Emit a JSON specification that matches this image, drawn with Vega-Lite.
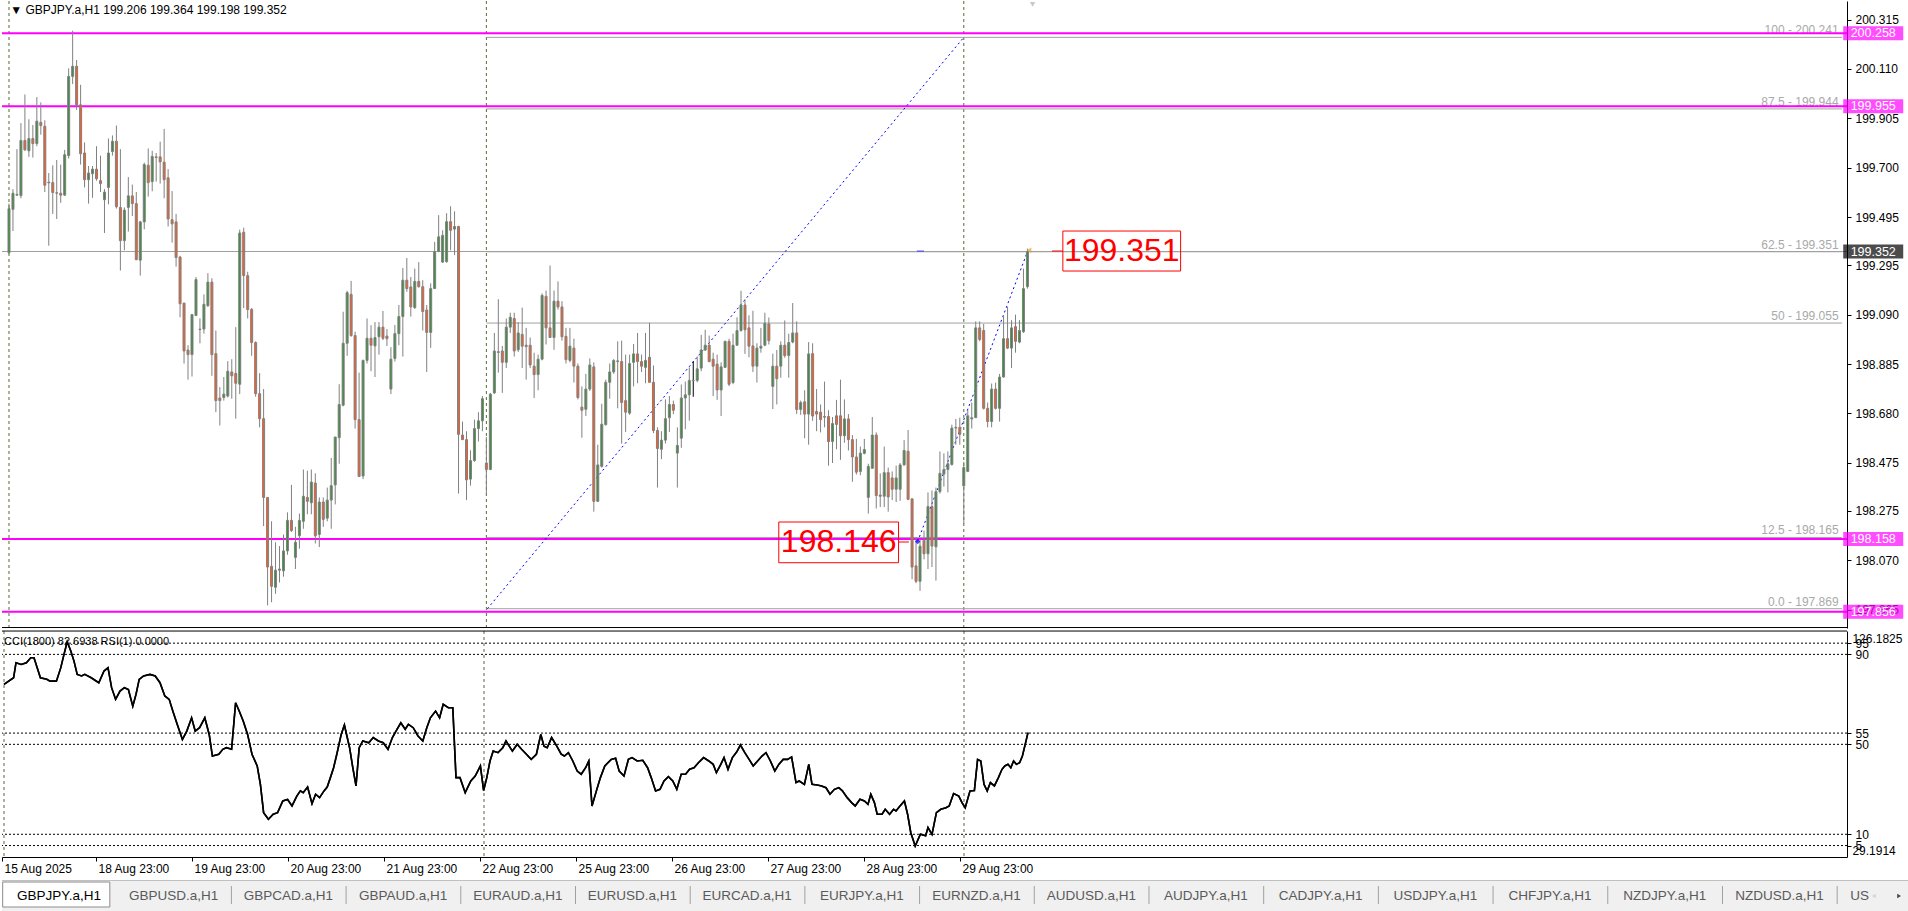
{
"$schema": "https://vega.github.io/schema/vega-lite/v6.json",
"padding": 0,
"background": "white",
"spacing": 3,
"bounds": "flush",
"config": {"view": {"stroke": null}, "font": "Liberation Sans", "text": {"font": "Liberation Sans"}, "axis": {"labelFont": "Liberation Sans", "grid": false}},
"datasets": {
"candles": [
{"i":0,"o":199.347,"h":199.551,"l":199.341,"c":199.530},{"i":1,"o":199.527,"h":199.611,"l":199.437,"c":199.594},{"i":2,"o":199.586,"h":199.777,"l":199.583,"c":199.589},{"i":3,"o":199.584,"h":199.885,"l":199.573,"c":199.813},{"i":4,"o":199.813,"h":200.004,"l":199.770,"c":199.774},{"i":5,"o":199.770,"h":199.901,"l":199.745,"c":199.821},{"i":6,"o":199.821,"h":199.877,"l":199.742,"c":199.800},{"i":7,"o":199.800,"h":199.993,"l":199.789,"c":199.893},{"i":8,"o":199.888,"h":199.971,"l":199.837,"c":199.875},{"i":9,"o":199.872,"h":199.897,"l":199.599,"c":199.627},
{"i":10,"o":199.640,"h":199.678,"l":199.376,"c":199.637},{"i":11,"o":199.638,"h":199.710,"l":199.508,"c":199.597},{"i":12,"o":199.596,"h":199.732,"l":199.487,"c":199.594},{"i":13,"o":199.594,"h":199.713,"l":199.554,"c":199.586},{"i":14,"o":199.586,"h":199.774,"l":199.583,"c":199.754},{"i":15,"o":199.750,"h":200.112,"l":199.738,"c":200.079},{"i":16,"o":200.079,"h":200.269,"l":200.047,"c":200.121},{"i":17,"o":200.121,"h":200.147,"l":199.940,"c":199.961},{"i":18,"o":199.961,"h":200.044,"l":199.713,"c":199.758},{"i":19,"o":199.761,"h":199.805,"l":199.618,"c":199.650},
{"i":20,"o":199.650,"h":199.707,"l":199.551,"c":199.678},{"i":21,"o":199.675,"h":199.707,"l":199.575,"c":199.694},{"i":22,"o":199.694,"h":199.789,"l":199.646,"c":199.654},{"i":23,"o":199.646,"h":199.750,"l":199.599,"c":199.634},{"i":24,"o":199.567,"h":199.611,"l":199.429,"c":199.599},{"i":25,"o":199.618,"h":199.821,"l":199.548,"c":199.761},{"i":26,"o":199.767,"h":199.834,"l":199.750,"c":199.810},{"i":27,"o":199.810,"h":199.875,"l":199.530,"c":199.538},{"i":28,"o":199.535,"h":199.777,"l":199.273,"c":199.397},{"i":29,"o":199.397,"h":199.535,"l":199.357,"c":199.524},
{"i":30,"o":199.535,"h":199.661,"l":199.435,"c":199.583},{"i":31,"o":199.583,"h":199.630,"l":199.499,"c":199.551},{"i":32,"o":199.551,"h":199.599,"l":199.316,"c":199.318},{"i":33,"o":199.316,"h":199.479,"l":199.252,"c":199.475},{"i":34,"o":199.475,"h":199.721,"l":199.444,"c":199.713},{"i":35,"o":199.710,"h":199.780,"l":199.580,"c":199.638},{"i":36,"o":199.642,"h":199.770,"l":199.602,"c":199.747},{"i":37,"o":199.742,"h":199.761,"l":199.642,"c":199.745},{"i":38,"o":199.745,"h":199.808,"l":199.634,"c":199.724},{"i":39,"o":199.723,"h":199.861,"l":199.573,"c":199.650},
{"i":40,"o":199.658,"h":199.694,"l":199.456,"c":199.487},{"i":41,"o":199.484,"h":199.603,"l":199.389,"c":199.467},{"i":42,"o":199.475,"h":199.508,"l":199.289,"c":199.327},{"i":43,"o":199.329,"h":199.334,"l":199.079,"c":199.135},{"i":44,"o":199.138,"h":199.138,"l":198.887,"c":198.939},{"i":45,"o":198.943,"h":198.963,"l":198.820,"c":198.924},{"i":46,"o":198.924,"h":199.093,"l":198.833,"c":199.090},{"i":47,"o":199.086,"h":199.246,"l":199.086,"c":199.236},{"i":48,"o":199.028,"h":199.074,"l":198.971,"c":199.030},{"i":49,"o":199.030,"h":199.174,"l":199.011,"c":199.133},
{"i":50,"o":199.127,"h":199.262,"l":199.122,"c":199.225},{"i":51,"o":199.225,"h":199.241,"l":198.836,"c":198.924},{"i":52,"o":198.928,"h":199.024,"l":198.685,"c":198.733},{"i":53,"o":198.744,"h":198.789,"l":198.630,"c":198.733},{"i":54,"o":198.746,"h":198.831,"l":198.733,"c":198.760},{"i":55,"o":198.752,"h":198.897,"l":198.746,"c":198.855},{"i":56,"o":198.852,"h":198.905,"l":198.741,"c":198.836},{"i":57,"o":198.846,"h":199.038,"l":198.658,"c":198.805},{"i":58,"o":198.801,"h":199.443,"l":198.760,"c":199.429},{"i":59,"o":199.432,"h":199.451,"l":199.117,"c":199.252},
{"i":60,"o":199.252,"h":199.268,"l":199.074,"c":199.111},{"i":61,"o":199.112,"h":199.117,"l":198.919,"c":198.974},{"i":62,"o":198.974,"h":198.979,"l":198.749,"c":198.762},{"i":63,"o":198.762,"h":198.847,"l":198.622,"c":198.658},{"i":64,"o":198.658,"h":198.781,"l":198.212,"c":198.331},{"i":65,"o":198.331,"h":198.331,"l":197.883,"c":198.042},{"i":66,"o":198.045,"h":198.232,"l":197.896,"c":197.962},{"i":67,"o":197.958,"h":198.145,"l":197.931,"c":198.029},{"i":68,"o":198.029,"h":198.129,"l":197.978,"c":198.034},{"i":69,"o":198.026,"h":198.177,"l":198.002,"c":198.109},
{"i":70,"o":198.109,"h":198.269,"l":198.093,"c":198.236},{"i":71,"o":198.236,"h":198.383,"l":198.188,"c":198.193},{"i":72,"o":198.082,"h":198.209,"l":198.034,"c":198.145},{"i":73,"o":198.172,"h":198.264,"l":198.118,"c":198.236},{"i":74,"o":198.232,"h":198.447,"l":198.201,"c":198.336},{"i":75,"o":198.331,"h":198.442,"l":198.261,"c":198.315},{"i":76,"o":198.309,"h":198.447,"l":198.261,"c":198.395},{"i":77,"o":198.391,"h":198.431,"l":198.140,"c":198.172},{"i":78,"o":198.177,"h":198.331,"l":198.125,"c":198.312},{"i":79,"o":198.312,"h":198.331,"l":198.209,"c":198.240},
{"i":80,"o":198.245,"h":198.372,"l":198.232,"c":198.320},{"i":81,"o":198.320,"h":198.495,"l":198.201,"c":198.380},{"i":82,"o":198.383,"h":198.582,"l":198.302,"c":198.582},{"i":83,"o":198.579,"h":198.801,"l":198.471,"c":198.717},{"i":84,"o":198.714,"h":199.102,"l":198.709,"c":198.971},{"i":85,"o":198.971,"h":199.189,"l":198.919,"c":199.181},{"i":86,"o":199.174,"h":199.230,"l":198.998,"c":199.003},{"i":87,"o":199.003,"h":199.019,"l":198.617,"c":198.654},{"i":88,"o":198.654,"h":198.849,"l":198.418,"c":198.418},{"i":89,"o":198.420,"h":198.903,"l":198.407,"c":198.900},
{"i":90,"o":198.900,"h":199.074,"l":198.887,"c":198.992},{"i":91,"o":198.992,"h":199.046,"l":198.855,"c":198.963},{"i":92,"o":198.960,"h":199.059,"l":198.831,"c":198.995},{"i":93,"o":198.998,"h":199.059,"l":198.924,"c":199.038},{"i":94,"o":199.038,"h":199.105,"l":198.984,"c":198.992},{"i":95,"o":199.001,"h":199.030,"l":198.960,"c":198.990},{"i":96,"o":198.781,"h":198.955,"l":198.760,"c":198.905},{"i":97,"o":198.908,"h":199.047,"l":198.895,"c":199.011},{"i":98,"o":199.011,"h":199.130,"l":198.963,"c":199.082},{"i":99,"o":199.082,"h":199.284,"l":198.916,"c":199.233},
{"i":100,"o":199.233,"h":199.325,"l":199.185,"c":199.198},{"i":101,"o":199.205,"h":199.246,"l":199.082,"c":199.122},{"i":102,"o":199.119,"h":199.281,"l":199.114,"c":199.228},{"i":103,"o":199.228,"h":199.308,"l":199.202,"c":199.206},{"i":104,"o":199.206,"h":199.233,"l":199.024,"c":199.103},{"i":105,"o":199.109,"h":199.130,"l":198.852,"c":199.016},{"i":106,"o":199.016,"h":199.220,"l":198.952,"c":199.198},{"i":107,"o":199.198,"h":199.392,"l":199.198,"c":199.352},{"i":108,"o":199.352,"h":199.503,"l":199.349,"c":199.413},{"i":109,"o":199.308,"h":199.440,"l":199.305,"c":199.419},
{"i":110,"o":199.310,"h":199.511,"l":199.305,"c":199.476},{"i":111,"o":199.476,"h":199.540,"l":199.357,"c":199.440},{"i":112,"o":199.445,"h":199.519,"l":199.337,"c":199.456},{"i":113,"o":199.456,"h":199.459,"l":198.347,"c":198.593},{"i":114,"o":198.590,"h":198.646,"l":198.569,"c":198.571},{"i":115,"o":198.571,"h":198.606,"l":198.320,"c":198.404},{"i":116,"o":198.407,"h":198.527,"l":198.380,"c":198.484},{"i":117,"o":198.484,"h":198.654,"l":198.479,"c":198.617},{"i":118,"o":198.617,"h":198.685,"l":198.563,"c":198.649},{"i":119,"o":198.649,"h":198.752,"l":198.606,"c":198.741},
{"i":120,"o":198.474,"h":198.582,"l":198.341,"c":198.447},{"i":121,"o":198.447,"h":198.765,"l":198.444,"c":198.760},{"i":122,"o":198.765,"h":199.014,"l":198.760,"c":198.939},{"i":123,"o":198.936,"h":199.154,"l":198.849,"c":198.933},{"i":124,"o":198.939,"h":198.960,"l":198.765,"c":198.892},{"i":125,"o":198.892,"h":199.074,"l":198.868,"c":199.038},{"i":126,"o":199.038,"h":199.098,"l":199.014,"c":199.079},{"i":127,"o":199.074,"h":199.098,"l":198.916,"c":198.939},{"i":128,"o":198.944,"h":199.059,"l":198.935,"c":199.014},{"i":129,"o":199.008,"h":199.119,"l":198.868,"c":198.959},
{"i":130,"o":198.963,"h":199.035,"l":198.820,"c":198.957},{"i":131,"o":198.963,"h":198.995,"l":198.868,"c":198.881},{"i":132,"o":198.876,"h":198.932,"l":198.744,"c":198.841},{"i":133,"o":198.841,"h":198.924,"l":198.776,"c":198.905},{"i":134,"o":198.905,"h":199.178,"l":198.900,"c":199.170},{"i":135,"o":199.166,"h":199.190,"l":198.966,"c":199.035},{"i":136,"o":199.035,"h":199.294,"l":198.995,"c":198.995},{"i":137,"o":198.995,"h":199.190,"l":198.944,"c":199.146},{"i":138,"o":199.146,"h":199.228,"l":199.111,"c":199.122},{"i":139,"o":199.122,"h":199.146,"l":198.982,"c":198.998},
{"i":140,"o":199.000,"h":199.035,"l":198.887,"c":198.903},{"i":141,"o":198.900,"h":199.035,"l":198.892,"c":198.959},{"i":142,"o":198.951,"h":198.990,"l":198.808,"c":198.876},{"i":143,"o":198.876,"h":198.887,"l":198.738,"c":198.746},{"i":144,"o":198.706,"h":198.792,"l":198.579,"c":198.693},{"i":145,"o":198.697,"h":198.844,"l":198.669,"c":198.781},{"i":146,"o":198.781,"h":198.908,"l":198.773,"c":198.881},{"i":147,"o":198.873,"h":198.892,"l":198.272,"c":198.315},{"i":148,"o":198.315,"h":198.550,"l":198.312,"c":198.466},{"i":149,"o":198.460,"h":198.720,"l":198.455,"c":198.635},
{"i":150,"o":198.633,"h":198.820,"l":198.630,"c":198.809},{"i":151,"o":198.809,"h":198.887,"l":198.741,"c":198.852},{"i":152,"o":198.852,"h":198.905,"l":198.844,"c":198.900},{"i":153,"o":198.898,"h":198.979,"l":198.701,"c":198.895},{"i":154,"o":198.895,"h":198.982,"l":198.554,"c":198.725},{"i":155,"o":198.733,"h":198.924,"l":198.603,"c":198.685},{"i":156,"o":198.681,"h":198.924,"l":198.674,"c":198.887},{"i":157,"o":198.892,"h":198.968,"l":198.792,"c":198.927},{"i":158,"o":198.927,"h":199.014,"l":198.805,"c":198.895},{"i":159,"o":198.895,"h":198.924,"l":198.852,"c":198.876},
{"i":160,"o":198.871,"h":199.014,"l":198.805,"c":198.900},{"i":161,"o":198.913,"h":199.056,"l":198.809,"c":198.809},{"i":162,"o":198.809,"h":198.879,"l":198.598,"c":198.609},{"i":163,"o":198.609,"h":198.622,"l":198.372,"c":198.534},{"i":164,"o":198.531,"h":198.606,"l":198.490,"c":198.569},{"i":165,"o":198.569,"h":198.738,"l":198.555,"c":198.658},{"i":166,"o":198.662,"h":198.752,"l":198.603,"c":198.717},{"i":167,"o":198.717,"h":198.733,"l":198.677,"c":198.693},{"i":168,"o":198.515,"h":198.622,"l":198.372,"c":198.547},{"i":169,"o":198.577,"h":198.800,"l":198.537,"c":198.744},
{"i":170,"o":198.744,"h":198.812,"l":198.614,"c":198.757},{"i":171,"o":198.757,"h":198.871,"l":198.650,"c":198.817},{"i":172,"o":198.817,"h":198.897,"l":198.749,"c":198.815},{"i":173,"o":198.817,"h":198.916,"l":198.809,"c":198.865},{"i":174,"o":198.868,"h":199.006,"l":198.855,"c":198.943},{"i":175,"o":198.943,"h":199.027,"l":198.939,"c":198.963},{"i":176,"o":198.963,"h":199.003,"l":198.892,"c":198.895},{"i":177,"o":198.905,"h":198.932,"l":198.752,"c":198.876},{"i":178,"o":198.884,"h":198.924,"l":198.736,"c":198.777},{"i":179,"o":198.777,"h":198.892,"l":198.669,"c":198.873},
{"i":180,"o":198.871,"h":198.982,"l":198.868,"c":198.979},{"i":181,"o":198.979,"h":198.990,"l":198.793,"c":198.801},{"i":182,"o":198.808,"h":199.011,"l":198.801,"c":198.963},{"i":183,"o":198.963,"h":199.079,"l":198.960,"c":199.024},{"i":184,"o":199.024,"h":199.189,"l":199.019,"c":199.130},{"i":185,"o":199.130,"h":199.154,"l":198.927,"c":199.027},{"i":186,"o":199.035,"h":199.087,"l":198.913,"c":198.959},{"i":187,"o":198.960,"h":199.106,"l":198.852,"c":198.876},{"i":188,"o":198.876,"h":198.971,"l":198.808,"c":198.951},{"i":189,"o":198.951,"h":199.035,"l":198.932,"c":198.959},
{"i":190,"o":198.963,"h":199.098,"l":198.959,"c":199.054},{"i":191,"o":199.051,"h":199.078,"l":198.966,"c":198.982},{"i":192,"o":198.792,"h":198.928,"l":198.698,"c":198.876},{"i":193,"o":198.876,"h":198.943,"l":198.717,"c":198.824},{"i":194,"o":198.876,"h":198.979,"l":198.828,"c":198.963},{"i":195,"o":198.963,"h":199.066,"l":198.911,"c":198.920},{"i":196,"o":198.920,"h":199.011,"l":198.828,"c":198.974},{"i":197,"o":198.976,"h":199.138,"l":198.971,"c":199.014},{"i":198,"o":199.014,"h":199.062,"l":198.677,"c":198.696},{"i":199,"o":198.696,"h":198.733,"l":198.674,"c":198.725},
{"i":200,"o":198.728,"h":198.776,"l":198.577,"c":198.677},{"i":201,"o":198.677,"h":198.976,"l":198.550,"c":198.927},{"i":202,"o":198.928,"h":198.971,"l":198.649,"c":198.669},{"i":203,"o":198.688,"h":198.781,"l":198.606,"c":198.677},{"i":204,"o":198.685,"h":198.717,"l":198.601,"c":198.654},{"i":205,"o":198.667,"h":198.812,"l":198.622,"c":198.664},{"i":206,"o":198.667,"h":198.693,"l":198.463,"c":198.563},{"i":207,"o":198.563,"h":198.665,"l":198.474,"c":198.638},{"i":208,"o":198.670,"h":198.736,"l":198.531,"c":198.634},{"i":209,"o":198.670,"h":198.820,"l":198.487,"c":198.587},
{"i":210,"o":198.587,"h":198.738,"l":198.558,"c":198.657},{"i":211,"o":198.657,"h":198.677,"l":198.526,"c":198.571},{"i":212,"o":198.571,"h":198.590,"l":198.396,"c":198.499},{"i":213,"o":198.499,"h":198.574,"l":198.426,"c":198.436},{"i":214,"o":198.439,"h":198.542,"l":198.423,"c":198.515},{"i":215,"o":198.514,"h":198.574,"l":198.510,"c":198.530},{"i":216,"o":198.331,"h":198.471,"l":198.264,"c":198.460},{"i":217,"o":198.452,"h":198.665,"l":198.450,"c":198.590},{"i":218,"o":198.590,"h":198.601,"l":198.285,"c":198.339},{"i":219,"o":198.341,"h":198.431,"l":198.291,"c":198.336},
{"i":220,"o":198.336,"h":198.542,"l":198.291,"c":198.434},{"i":221,"o":198.434,"h":198.455,"l":198.272,"c":198.333},{"i":222,"o":198.412,"h":198.439,"l":198.320,"c":198.365},{"i":223,"o":198.365,"h":198.463,"l":198.312,"c":198.412},{"i":224,"o":198.365,"h":198.474,"l":198.317,"c":198.466},{"i":225,"o":198.466,"h":198.569,"l":198.463,"c":198.526},{"i":226,"o":198.523,"h":198.611,"l":198.320,"c":198.323},{"i":227,"o":198.325,"h":198.328,"l":197.991,"c":198.042},{"i":228,"o":198.047,"h":198.166,"l":197.975,"c":197.983},{"i":229,"o":197.983,"h":198.156,"l":197.943,"c":198.129},
{"i":230,"o":198.153,"h":198.193,"l":198.074,"c":198.097},{"i":231,"o":198.097,"h":198.352,"l":198.034,"c":198.293},{"i":232,"o":198.293,"h":198.360,"l":198.042,"c":198.129},{"i":233,"o":198.126,"h":198.372,"l":197.986,"c":198.355},{"i":234,"o":198.355,"h":198.522,"l":198.347,"c":198.431},{"i":235,"o":198.428,"h":198.514,"l":198.376,"c":198.447},{"i":236,"o":198.447,"h":198.522,"l":198.352,"c":198.471},{"i":237,"o":198.468,"h":198.633,"l":198.463,"c":198.619},{"i":238,"o":198.622,"h":198.657,"l":198.550,"c":198.619},{"i":239,"o":198.622,"h":198.662,"l":198.550,"c":198.593},
{"i":240,"o":198.379,"h":198.479,"l":198.220,"c":198.455},{"i":241,"o":198.439,"h":198.693,"l":198.436,"c":198.670},{"i":242,"o":198.657,"h":198.725,"l":198.617,"c":198.662},{"i":243,"o":198.662,"h":199.062,"l":198.662,"c":199.035},{"i":244,"o":199.035,"h":199.062,"l":198.979,"c":198.987},{"i":245,"o":199.024,"h":199.051,"l":198.696,"c":198.701},{"i":246,"o":198.701,"h":198.725,"l":198.622,"c":198.646},{"i":247,"o":198.646,"h":198.804,"l":198.622,"c":198.781},{"i":248,"o":198.781,"h":198.808,"l":198.696,"c":198.701},{"i":249,"o":198.701,"h":198.844,"l":198.646,"c":198.831},
{"i":250,"o":198.831,"h":199.087,"l":198.828,"c":198.990},{"i":251,"o":198.990,"h":199.122,"l":198.947,"c":198.951},{"i":252,"o":198.951,"h":199.067,"l":198.868,"c":199.035},{"i":253,"o":199.040,"h":199.090,"l":198.932,"c":198.979},{"i":254,"o":198.976,"h":199.067,"l":198.971,"c":199.024},{"i":255,"o":199.019,"h":199.281,"l":199.014,"c":199.198},{"i":256,"o":199.206,"h":199.364,"l":199.198,"c":199.352}
],
"ind": [
{"t":0,"v":76.7},{"t":2.4,"v":79.6},{"t":3.0,"v":86.3},{"t":4.3,"v":85.5},{"t":5.6,"v":86.3},{"t":6.7,"v":88.5},{"t":7.5,"v":88.5},{"t":9.1,"v":79.6},{"t":10.7,"v":78.9},{"t":11.5,"v":78.1},{"t":13.1,"v":78.1},{"t":14.2,"v":84.1},{"t":15.0,"v":90.0},{"t":15.8,"v":95.6},{"t":16.7,"v":91.5},{"t":17.5,"v":87.0},{"t":18.3,"v":81.1},{"t":19.4,"v":80.4},{"t":20.2,"v":81.1},{"t":21.8,"v":79.6},{"t":23.7,"v":77.4},{"t":25.0,"v":82.6},{"t":26.0,"v":84.1},{"t":26.9,"v":75.2},{"t":27.9,"v":70.0},{"t":29.0,"v":73.7},{"t":30.1,"v":75.2},{"t":31.1,"v":74.4},{"t":32.2,"v":67.0},{"t":33.0,"v":72.2},{"t":33.8,"v":78.9},{"t":34.9,"v":80.4},{"t":36.5,"v":81.1},{"t":37.8,"v":80.4},{"t":39.0,"v":77.4},{"t":40.2,"v":71.5},{"t":41.3,"v":70.0},{"t":42.2,"v":64.8},{"t":43.3,"v":58.9},{"t":44.6,"v":52.2},{"t":45.7,"v":55.9},{"t":46.9,"v":61.8},{"t":47.8,"v":55.9},{"t":48.9,"v":57.4},{"t":50.2,"v":61.8},{"t":51.3,"v":54.4},{"t":52.1,"v":44.8},{"t":53.7,"v":45.6},{"t":54.7,"v":47.8},{"t":55.6,"v":48.5},{"t":56.9,"v":47.8},{"t":57.9,"v":68.5},{"t":58.8,"v":64.8},{"t":59.8,"v":60.4},{"t":60.9,"v":54.4},{"t":62.0,"v":45.6},{"t":63.3,"v":40.4},{"t":64.1,"v":32.2},{"t":64.9,"v":19.6},{"t":66.1,"v":16.7},{"t":67.3,"v":18.9},{"t":68.4,"v":19.6},{"t":69.7,"v":24.8},{"t":70.9,"v":25.5},{"t":72.0,"v":22.6},{"t":73.2,"v":27.0},{"t":74.1,"v":29.3},{"t":74.8,"v":28.5},{"t":75.9,"v":31.0},{"t":77.0,"v":23.6},{"t":77.9,"v":27.8},{"t":78.9,"v":26.3},{"t":80.0,"v":29.3},{"t":80.8,"v":31.0},{"t":81.6,"v":35.2},{"t":82.4,"v":39.6},{"t":83.2,"v":45.6},{"t":84.3,"v":54.4},{"t":85.1,"v":58.6},{"t":86.4,"v":48.5},{"t":87.2,"v":39.6},{"t":88.0,"v":31.5},{"t":88.8,"v":48.5},{"t":89.7,"v":51.5},{"t":91.2,"v":50.7},{"t":92.3,"v":53.0},{"t":93.6,"v":51.5},{"t":94.8,"v":50.7},{"t":96.0,"v":47.8},{"t":97.1,"v":53.0},{"t":98.0,"v":55.9},{"t":99.2,"v":59.6},{"t":100.3,"v":56.7},{"t":101.1,"v":58.9},{"t":102.3,"v":57.4},{"t":103.5,"v":53.7},{"t":104.7,"v":51.5},{"t":105.7,"v":57.4},{"t":106.6,"v":61.8},{"t":107.9,"v":64.8},{"t":108.9,"v":61.8},{"t":109.8,"v":67.8},{"t":111.1,"v":66.3},{"t":112.2,"v":66.3},{"t":113.0,"v":35.2},{"t":114.0,"v":35.2},{"t":115.3,"v":28.5},{"t":116.7,"v":33.7},{"t":117.8,"v":35.9},{"t":119.1,"v":40.4},{"t":119.9,"v":29.5},{"t":120.7,"v":35.2},{"t":121.5,"v":42.6},{"t":122.3,"v":47.0},{"t":123.5,"v":46.3},{"t":124.7,"v":48.5},{"t":125.5,"v":51.5},{"t":126.3,"v":49.2},{"t":127.1,"v":47.0},{"t":128.3,"v":50.0},{"t":129.4,"v":47.8},{"t":130.6,"v":45.6},{"t":131.8,"v":43.3},{"t":133.1,"v":45.6},{"t":134.2,"v":54.4},{"t":135.0,"v":49.2},{"t":135.8,"v":48.5},{"t":136.9,"v":53.0},{"t":138.2,"v":49.2},{"t":139.3,"v":45.6},{"t":140.1,"v":44.8},{"t":141.1,"v":46.3},{"t":142.2,"v":42.6},{"t":143.3,"v":38.1},{"t":144.3,"v":36.7},{"t":145.4,"v":39.6},{"t":146.2,"v":42.6},{"t":147.0,"v":22.6},{"t":148.1,"v":29.3},{"t":149.1,"v":35.2},{"t":150.2,"v":40.4},{"t":151.8,"v":43.3},{"t":152.9,"v":43.8},{"t":153.8,"v":38.1},{"t":155.0,"v":35.9},{"t":156.1,"v":43.3},{"t":157.0,"v":44.1},{"t":158.3,"v":42.6},{"t":159.7,"v":42.9},{"t":160.9,"v":39.6},{"t":161.8,"v":35.2},{"t":162.9,"v":29.3},{"t":164.0,"v":30.0},{"t":165.0,"v":33.7},{"t":166.1,"v":35.6},{"t":167.2,"v":33.7},{"t":168.2,"v":30.0},{"t":169.3,"v":36.7},{"t":170.4,"v":36.7},{"t":171.4,"v":38.9},{"t":172.5,"v":39.6},{"t":173.6,"v":41.8},{"t":174.9,"v":44.1},{"t":176.2,"v":42.6},{"t":177.3,"v":41.1},{"t":178.1,"v":37.4},{"t":179.2,"v":41.1},{"t":180.0,"v":44.1},{"t":181.0,"v":38.9},{"t":182.1,"v":44.1},{"t":183.2,"v":46.7},{"t":184.1,"v":49.7},{"t":185.2,"v":46.3},{"t":186.0,"v":44.1},{"t":187.3,"v":40.4},{"t":188.4,"v":42.6},{"t":189.5,"v":44.8},{"t":190.5,"v":46.3},{"t":191.6,"v":42.6},{"t":192.7,"v":38.1},{"t":193.7,"v":41.1},{"t":194.8,"v":43.3},{"t":195.9,"v":43.3},{"t":196.9,"v":44.4},{"t":198.0,"v":33.0},{"t":198.8,"v":33.7},{"t":200.1,"v":32.2},{"t":201.2,"v":41.1},{"t":202.0,"v":32.2},{"t":203.3,"v":31.9},{"t":204.4,"v":31.5},{"t":205.5,"v":30.7},{"t":206.5,"v":27.8},{"t":207.6,"v":30.0},{"t":208.7,"v":30.7},{"t":209.6,"v":29.3},{"t":210.8,"v":26.3},{"t":211.9,"v":24.1},{"t":212.8,"v":22.6},{"t":214.0,"v":25.6},{"t":215.1,"v":24.8},{"t":216.0,"v":23.3},{"t":216.7,"v":27.8},{"t":217.6,"v":24.1},{"t":218.3,"v":18.9},{"t":219.5,"v":18.9},{"t":220.3,"v":21.1},{"t":221.4,"v":18.9},{"t":222.4,"v":21.1},{"t":223.0,"v":20.4},{"t":224.0,"v":22.6},{"t":225.1,"v":24.8},{"t":225.9,"v":18.9},{"t":226.7,"v":10.7},{"t":227.8,"v":4.8},{"t":229.1,"v":10.0},{"t":230.4,"v":9.3},{"t":231.0,"v":13.0},{"t":232.0,"v":10.0},{"t":233.1,"v":19.6},{"t":234.2,"v":21.1},{"t":235.5,"v":21.8},{"t":236.3,"v":22.6},{"t":237.4,"v":28.1},{"t":238.7,"v":27.0},{"t":239.5,"v":24.1},{"t":240.3,"v":21.8},{"t":241.5,"v":29.3},{"t":242.6,"v":29.5},{"t":243.4,"v":43.3},{"t":244.2,"v":42.6},{"t":245.0,"v":32.2},{"t":245.8,"v":29.3},{"t":246.6,"v":33.0},{"t":247.6,"v":31.5},{"t":248.6,"v":35.2},{"t":249.5,"v":38.9},{"t":250.2,"v":40.4},{"t":251.0,"v":41.1},{"t":251.7,"v":39.6},{"t":252.4,"v":42.6},{"t":253.1,"v":41.1},{"t":253.9,"v":41.8},{"t":254.6,"v":44.8},{"t":255.3,"v":50.0},{"t":256.0,"v":55.2}
],
"fib": [{"lab":"100 -  200.241","v":200.241},{"lab":"87.5 - 199.944","v":199.944},{"lab":"62.5 - 199.351","v":199.351},{"lab":"50 -  199.055","v":199.055},{"lab":"12.5 -  198.165","v":198.165},{"lab":"0.0 - 197.869","v":197.869}],
"seps": [{"s":0},{"s":120},{"s":240}],
"tags": [{"v":200.258,"t":"200.258"},{"v":199.955,"t":"199.955"},{"v":198.158,"t":"198.158"},{"v":197.856,"t":"197.856"},{"v":199.352,"t":"199.352"}],
"tabs": [{"n":0,"tab":"GBPJPY.a,H1"},{"n":1,"tab":"GBPUSD.a,H1"},{"n":2,"tab":"GBPCAD.a,H1"},{"n":3,"tab":"GBPAUD.a,H1"},{"n":4,"tab":"EURAUD.a,H1"},{"n":5,"tab":"EURUSD.a,H1"},{"n":6,"tab":"EURCAD.a,H1"},{"n":7,"tab":"EURJPY.a,H1"},{"n":8,"tab":"EURNZD.a,H1"},{"n":9,"tab":"AUDUSD.a,H1"},{"n":10,"tab":"AUDJPY.a,H1"},{"n":11,"tab":"CADJPY.a,H1"},{"n":12,"tab":"USDJPY.a,H1"},{"n":13,"tab":"CHFJPY.a,H1"},{"n":14,"tab":"NZDJPY.a,H1"},{"n":15,"tab":"NZDUSD.a,H1"},{"n":16,"tab":"US"}]
},
"vconcat": [
{
"width": 1845, "height": 627,
"resolve": {"axis": {"x": "independent", "y": "independent"}},
"layer": [
{"data": {"name": "candles"}, "mark": {"type": "rule", "strokeWidth": 1, "opacity": 0},
 "encoding": {"x": {"field": "i", "type": "quantitative", "scale": {"domain": [-0.5, 460.75], "nice": false, "zero": false}, "axis": null},
  "y": {"field": "l", "type": "quantitative", "scale": {"domain": [197.789, 200.392], "nice": false, "zero": false},
   "axis": {"orient": "right", "values": [200.315, 200.110, 199.905, 199.700, 199.495, 199.295, 199.090, 198.885, 198.680, 198.475, 198.275, 198.070, 197.865], "format": ".3f", "domain": true, "domainColor": "#000000", "ticks": true, "tickColor": "#000000", "tickSize": 4, "labelPadding": 4, "labelFontSize": 12, "labelColor": "#000000", "labelFlush": false, "labelOverlap": false, "title": null}},
  "y2": {"field": "h"}}},
{"data": {"name": "seps"}, "mark": {"type": "rule", "color": "#556b2f", "strokeDash": [3, 3], "strokeWidth": 1},
 "encoding": {"x": {"field": "s", "type": "quantitative", "scale": {"domain": [-0.5, 460.75], "nice": false, "zero": false}, "axis": null}}},
{"data": {"name": "fib"}, "mark": {"type": "rule", "color": "#a0a0a0", "strokeWidth": 1},
 "encoding": {"x": {"datum": 120, "type": "quantitative", "scale": {"domain": [-0.5, 460.75], "nice": false, "zero": false}, "axis": null}, "x2": {"datum": 460.75},
  "y": {"field": "v", "type": "quantitative", "scale": {"domain": [197.789, 200.392], "nice": false, "zero": false}, "axis": null}}},
{"data": {"values": [{}]}, "mark": {"type": "rule", "color": "#a0a0a0", "strokeWidth": 1},
 "encoding": {"y": {"datum": 199.352, "type": "quantitative", "scale": {"domain": [197.789, 200.392], "nice": false, "zero": false}, "axis": null}}},
{"data": {"name": "fib"}, "mark": {"type": "text", "align": "right", "baseline": "alphabetic", "dy": -3, "fontSize": 12, "color": "#a9a9a9"},
 "encoding": {"x": {"datum": 459.9, "type": "quantitative", "scale": {"domain": [-0.5, 460.75], "nice": false, "zero": false}, "axis": null},
  "y": {"field": "v", "type": "quantitative", "scale": {"domain": [197.789, 200.392], "nice": false, "zero": false}, "axis": null}, "text": {"field": "lab"}}},
{"data": {"values": [{"v": 200.258}, {"v": 199.955}, {"v": 198.158}, {"v": 197.856}]}, "mark": {"type": "rule", "color": "#ff00ff", "strokeWidth": 2},
 "encoding": {"y": {"field": "v", "type": "quantitative", "scale": {"domain": [197.789, 200.392], "nice": false, "zero": false}, "axis": null}}},
{"data": {"values": [{"x": 120.25, "y": 197.869, "g": "a"}, {"x": 240, "y": 200.241, "g": "a"}, {"x": 228.4, "y": 198.148, "g": "b"}, {"x": 256, "y": 199.351, "g": "b"}]},
 "mark": {"type": "line", "color": "#0000ff", "strokeWidth": 1, "strokeDash": [2, 3]},
 "encoding": {"x": {"field": "x", "type": "quantitative", "scale": {"domain": [-0.5, 460.75], "nice": false, "zero": false}, "axis": null},
  "y": {"field": "y", "type": "quantitative", "scale": {"domain": [197.789, 200.392], "nice": false, "zero": false}, "axis": null}, "detail": {"field": "g"}}},
{"data": {"name": "candles"}, "mark": {"type": "rule", "strokeWidth": 1},
 "encoding": {"x": {"field": "i", "type": "quantitative", "scale": {"domain": [-0.5, 460.75], "nice": false, "zero": false}, "axis": null},
  "y": {"field": "l", "type": "quantitative", "scale": {"domain": [197.789, 200.392], "nice": false, "zero": false}, "axis": null}, "y2": {"field": "h"},
  "color": {"condition": {"test": "datum.i == 172", "value": "#000000"}, "value": "#808080"}}},
{"data": {"name": "candles"}, "mark": {"type": "bar", "size": 2, "stroke": "#808080", "strokeWidth": 1, "orient": "vertical"},
 "encoding": {"x": {"field": "i", "type": "quantitative", "scale": {"domain": [-0.5, 460.75], "nice": false, "zero": false}, "axis": null},
  "y": {"field": "o", "type": "quantitative", "scale": {"domain": [197.789, 200.392], "nice": false, "zero": false}, "axis": null},
  "y2": {"field": "c"},
  "fill": {"condition": {"test": "datum.c >= datum.o", "value": "#3a8e3a"}, "value": "#ff5a1f"}}},
{"data": {"values": [{}]}, "mark": {"type": "tick", "orient": "horizontal", "size": 7, "thickness": 1, "color": "#0000ff"},
 "encoding": {"x": {"datum": 229.1, "type": "quantitative", "scale": {"domain": [-0.5, 460.75], "nice": false, "zero": false}, "axis": null},
  "y": {"datum": 199.354, "type": "quantitative", "scale": {"domain": [197.789, 200.392], "nice": false, "zero": false}, "axis": null}}},
{"data": {"values": [{}]}, "mark": {"type": "point", "shape": "diamond", "size": 30, "filled": true, "color": "#0000ff"},
 "encoding": {"x": {"datum": 228.4, "type": "quantitative", "scale": {"domain": [-0.5, 460.75], "nice": false, "zero": false}, "axis": null},
  "y": {"datum": 198.148, "type": "quantitative", "scale": {"domain": [197.789, 200.392], "nice": false, "zero": false}, "axis": null}}},
{"data": {"values": [{}]}, "mark": {"type": "point", "shape": "triangle-left", "size": 30, "filled": true, "color": "#e8a030"},
 "encoding": {"x": {"datum": 256.4, "type": "quantitative", "scale": {"domain": [-0.5, 460.75], "nice": false, "zero": false}, "axis": null},
  "y": {"datum": 199.357, "type": "quantitative", "scale": {"domain": [197.789, 200.392], "nice": false, "zero": false}, "axis": null}}},
{"data": {"values": [{"a": 262.2, "b": 264.9, "y": 199.354}, {"a": 223.6, "b": 226.2, "y": 198.146}]}, "mark": {"type": "rule", "color": "#ff0000", "strokeWidth": 1},
 "encoding": {"x": {"field": "a", "type": "quantitative", "scale": {"domain": [-0.5, 460.75], "nice": false, "zero": false}, "axis": null}, "x2": {"field": "b"},
  "y": {"field": "y", "type": "quantitative", "scale": {"domain": [197.789, 200.392], "nice": false, "zero": false}, "axis": null}}},
{"data": {"values": [{"a": 264.9, "b": 294.5, "lo": 199.271, "hi": 199.437}, {"a": 193.5, "b": 223.6, "lo": 198.060, "hi": 198.229}]},
 "mark": {"type": "rect", "fillOpacity": 0, "stroke": "#ff0000", "strokeWidth": 1},
 "encoding": {"x": {"field": "a", "type": "quantitative", "scale": {"domain": [-0.5, 460.75], "nice": false, "zero": false}, "axis": null}, "x2": {"field": "b"},
  "y": {"field": "lo", "type": "quantitative", "scale": {"domain": [197.789, 200.392], "nice": false, "zero": false}, "axis": null}, "y2": {"field": "hi"}}},
{"data": {"values": [{"x": 279.7, "y": 199.354, "t": "199.351"}, {"x": 208.55, "y": 198.146, "t": "198.146"}]},
 "mark": {"type": "text", "align": "center", "baseline": "middle", "fontSize": 32, "color": "#ff0000", "font": "Liberation Sans"},
 "encoding": {"x": {"field": "x", "type": "quantitative", "scale": {"domain": [-0.5, 460.75], "nice": false, "zero": false}, "axis": null},
  "y": {"field": "y", "type": "quantitative", "scale": {"domain": [197.789, 200.392], "nice": false, "zero": false}, "axis": null}, "text": {"field": "t"}}},
{"data": {"name": "tags"}, "mark": {"type": "tick", "orient": "horizontal", "size": 60, "thickness": 14},
 "encoding": {"x": {"datum": 468.6, "type": "quantitative", "scale": {"domain": [-0.5, 460.75], "nice": false, "zero": false}, "axis": null},
  "y": {"field": "v", "type": "quantitative", "scale": {"domain": [197.789, 200.392], "nice": false, "zero": false}, "axis": null},
  "color": {"condition": {"test": "datum.t == '199.352'", "value": "#000000"}, "value": "#ff00ff"}}},
{"data": {"name": "tags"}, "mark": {"type": "text", "align": "center", "baseline": "middle", "fontSize": 12.5, "color": "#ffffff"},
 "encoding": {"x": {"datum": 468.6, "type": "quantitative", "scale": {"domain": [-0.5, 460.75], "nice": false, "zero": false}, "axis": null},
  "y": {"field": "v", "type": "quantitative", "scale": {"domain": [197.789, 200.392], "nice": false, "zero": false}, "axis": null}, "text": {"field": "t"}}},
{"data": {"values": [{"t": "▼ GBPJPY.a,H1  199.206 199.364 199.198 199.352"}]}, "mark": {"type": "text", "align": "left", "baseline": "middle", "fontSize": 12, "color": "#000000"},
 "encoding": {"x": {"datum": 0.3, "type": "quantitative", "scale": {"domain": [-0.5, 460.75], "nice": false, "zero": false}, "axis": null},
  "y": {"datum": 200.356, "type": "quantitative", "scale": {"domain": [197.789, 200.392], "nice": false, "zero": false}, "axis": null}, "text": {"field": "t"}}},
{"data": {"values": [{}]}, "mark": {"type": "point", "shape": "triangle-down", "size": 30, "filled": true, "color": "#b0b0b0"},
 "encoding": {"x": {"datum": 257.3, "type": "quantitative", "scale": {"domain": [-0.5, 460.75], "nice": false, "zero": false}, "axis": null},
  "y": {"datum": 200.378, "type": "quantitative", "scale": {"domain": [197.789, 200.392], "nice": false, "zero": false}, "axis": null}}},
{"data": {"values": [{}]}, "mark": {"type": "rule", "color": "#000000", "strokeWidth": 1},
 "encoding": {"y": {"datum": 197.791, "type": "quantitative", "scale": {"domain": [197.789, 200.392], "nice": false, "zero": false}, "axis": null}}}
]
},
{
"width": 1845, "height": 226,
"resolve": {"axis": {"x": "independent", "y": "independent"}},
"layer": [
{"data": {"name": "ind"}, "mark": {"type": "line", "color": "#000000", "strokeWidth": 1.6},
 "encoding": {"x": {"field": "t", "type": "quantitative", "scale": {"domain": [-0.5, 460.75], "nice": false, "zero": false},
   "axis": {"orient": "bottom", "values": [-0.5, 23, 47, 71, 95, 119, 143, 167, 191, 215, 239], "labelExpr": "datum.value < 0 ? '15 Aug 2025' : ['18 Aug 23:00','19 Aug 23:00','20 Aug 23:00','21 Aug 23:00','22 Aug 23:00','25 Aug 23:00','26 Aug 23:00','27 Aug 23:00','28 Aug 23:00','29 Aug 23:00'][round((datum.value - 23) / 24)]", "labelAlign": "left", "labelBaseline": "top", "labelFlush": false, "labelOverlap": false, "labelOffset": 2, "labelPadding": 2, "labelFontSize": 12, "labelColor": "#000000", "domainColor": "#000000", "tickColor": "#000000", "tickSize": 4, "title": null}},
  "y": {"field": "v", "type": "quantitative", "scale": {"domain": [-0.1, 100.4], "nice": false, "zero": false},
   "axis": {"orient": "right", "values": [95, 90, 55, 50, 10, 5], "format": "d", "domainColor": "#000000", "tickColor": "#000000", "tickSize": 4, "labelPadding": 4, "labelFontSize": 12, "labelColor": "#000000", "labelFlush": false, "labelOverlap": false, "title": null}}}},
{"data": {"name": "seps"}, "mark": {"type": "rule", "color": "#556b2f", "strokeDash": [3, 3], "strokeWidth": 1},
 "encoding": {"x": {"field": "s", "type": "quantitative", "scale": {"domain": [-0.5, 460.75], "nice": false, "zero": false}, "axis": null}}},
{"data": {"values": [{"l": 95}, {"l": 90}, {"l": 55}, {"l": 50}, {"l": 10}, {"l": 5}]}, "mark": {"type": "rule", "color": "#000000", "strokeDash": [2, 2], "strokeWidth": 1},
 "encoding": {"y": {"field": "l", "type": "quantitative", "scale": {"domain": [-0.1, 100.4], "nice": false, "zero": false}, "axis": null}}},
{"data": {"name": "ind"}, "mark": {"type": "line", "color": "#000000", "strokeWidth": 1.6},
 "encoding": {"x": {"field": "t", "type": "quantitative", "scale": {"domain": [-0.5, 460.75], "nice": false, "zero": false}, "axis": null},
  "y": {"field": "v", "type": "quantitative", "scale": {"domain": [-0.1, 100.4], "nice": false, "zero": false}, "axis": null}}},
{"data": {"values": [{"t": "126.1825", "y": 97.0}, {"t": "29.1914", "y": 2.4}]}, "mark": {"type": "text", "align": "left", "baseline": "middle", "fontSize": 12, "color": "#000000"},
 "encoding": {"x": {"datum": 462.1, "type": "quantitative", "scale": {"domain": [-0.5, 460.75], "nice": false, "zero": false}, "axis": null},
  "y": {"field": "y", "type": "quantitative", "scale": {"domain": [-0.1, 100.4], "nice": false, "zero": false}, "axis": null}, "text": {"field": "t"}}},
{"data": {"values": [{"t": "CCI(1800) 82.6938  RSI(1) 0.0000"}]}, "mark": {"type": "text", "align": "left", "baseline": "middle", "fontSize": 11, "color": "#000000"},
 "encoding": {"x": {"datum": 0, "type": "quantitative", "scale": {"domain": [-0.5, 460.75], "nice": false, "zero": false}, "axis": null},
  "y": {"datum": 95.4, "type": "quantitative", "scale": {"domain": [-0.1, 100.4], "nice": false, "zero": false}, "axis": null}, "text": {"field": "t"}}},
{"data": {"values": [{}]}, "mark": {"type": "rule", "color": "#000000", "strokeWidth": 1},
 "encoding": {"y": {"datum": 100.38, "type": "quantitative", "scale": {"domain": [-0.1, 100.4], "nice": false, "zero": false}, "axis": null}}}
]
},
{
"width": 1908, "height": 52,
"layer": [
{"data": {"values": [{}]}, "mark": {"type": "rect", "fill": "#f0f0f0"},
 "encoding": {"x": {"datum": 0, "type": "quantitative", "scale": {"domain": [0, 16.635], "nice": false, "zero": false}, "axis": null}, "x2": {"datum": 16.635},
  "y": {"datum": 0, "type": "quantitative", "scale": {"domain": [0, 52], "nice": false, "zero": false}, "axis": null}, "y2": {"datum": 32}}},
{"data": {"values": [{}]}, "mark": {"type": "rule", "color": "#c0c0c0", "strokeWidth": 1},
 "encoding": {"y": {"datum": 31.5, "type": "quantitative", "scale": {"domain": [0, 52], "nice": false, "zero": false}, "axis": null}}},
{"data": {"values": [{}]}, "mark": {"type": "rect", "fill": "#ffffff", "stroke": "#8c8c8c", "strokeWidth": 1},
 "encoding": {"x": {"datum": 0.006, "type": "quantitative", "scale": {"domain": [0, 16.635], "nice": false, "zero": false}, "axis": null}, "x2": {"datum": 0.94},
  "y": {"datum": 5, "type": "quantitative", "scale": {"domain": [0, 52], "nice": false, "zero": false}, "axis": null}, "y2": {"datum": 30}}},
{"data": {"name": "tabs"}, "transform": [{"filter": "datum.n >= 2"}], "mark": {"type": "rule", "color": "#a0a0a0", "strokeWidth": 1},
 "encoding": {"x": {"field": "n", "type": "quantitative", "scale": {"domain": [0, 16.635], "nice": false, "zero": false}, "axis": null},
  "y": {"datum": 8, "type": "quantitative", "scale": {"domain": [0, 52], "nice": false, "zero": false}, "axis": null}, "y2": {"datum": 26}}},
{"data": {"name": "tabs"}, "transform": [{"filter": "datum.n < 16"}], "mark": {"type": "text", "align": "center", "baseline": "middle", "dx": 57, "fontSize": 13.5},
 "encoding": {"x": {"field": "n", "type": "quantitative", "scale": {"domain": [0, 16.635], "nice": false, "zero": false}, "axis": null},
  "y": {"datum": 16, "type": "quantitative", "scale": {"domain": [0, 52], "nice": false, "zero": false}, "axis": null}, "text": {"field": "tab"},
  "color": {"condition": {"test": "datum.n == 0", "value": "#000000"}, "value": "#5a5a5a"}}},
{"data": {"name": "tabs"}, "transform": [{"filter": "datum.n == 16"}], "mark": {"type": "text", "align": "left", "baseline": "middle", "dx": 13, "fontSize": 13.5, "color": "#5a5a5a"},
 "encoding": {"x": {"field": "n", "type": "quantitative", "scale": {"domain": [0, 16.635], "nice": false, "zero": false}, "axis": null},
  "y": {"datum": 16, "type": "quantitative", "scale": {"domain": [0, 52], "nice": false, "zero": false}, "axis": null}, "text": {"field": "tab"}}},
{"data": {"values": [{}]}, "mark": {"type": "point", "shape": "triangle-left", "size": 20, "filled": true, "color": "#c8c8c8"},
 "encoding": {"x": {"datum": 16.32, "type": "quantitative", "scale": {"domain": [0, 16.635], "nice": false, "zero": false}, "axis": null},
  "y": {"datum": 16, "type": "quantitative", "scale": {"domain": [0, 52], "nice": false, "zero": false}, "axis": null}}},
{"data": {"values": [{}]}, "mark": {"type": "point", "shape": "triangle-right", "size": 20, "filled": true, "color": "#000000"},
 "encoding": {"x": {"datum": 16.54, "type": "quantitative", "scale": {"domain": [0, 16.635], "nice": false, "zero": false}, "axis": null},
  "y": {"datum": 16, "type": "quantitative", "scale": {"domain": [0, 52], "nice": false, "zero": false}, "axis": null}}}
]
}
]
}
